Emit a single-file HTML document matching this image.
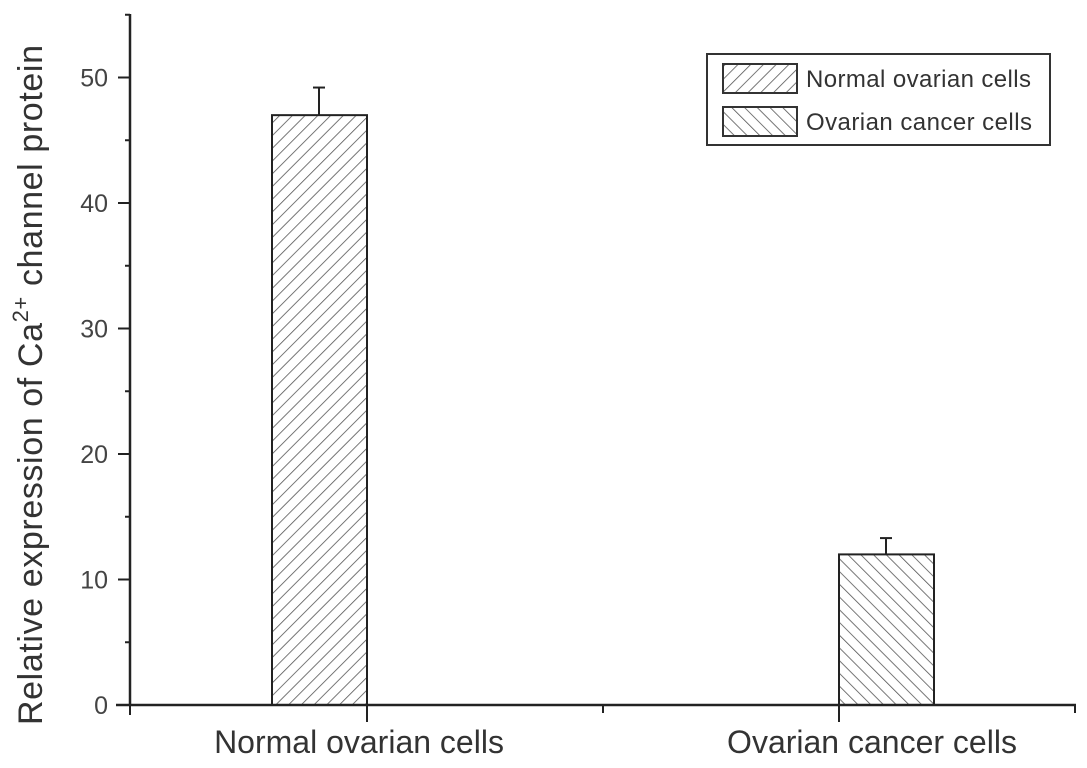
<!DOCTYPE html>
<html><head><meta charset="utf-8"><style>body{margin:0;background:#fff}svg{display:block;font-family:"Liberation Sans",Arial,sans-serif}</style></head>
<body>
<svg id="chart" width="1087" height="768" viewBox="0 0 1087 768">
<defs>
<pattern id="hatchR" patternUnits="userSpaceOnUse" width="9" height="9" patternTransform="rotate(45)"><line x1="0" y1="0" x2="0" y2="9" stroke="#555" stroke-width="1.6"/></pattern>
<pattern id="hatchL" patternUnits="userSpaceOnUse" width="9" height="9" patternTransform="rotate(-45)"><line x1="0" y1="0" x2="0" y2="9" stroke="#555" stroke-width="1.6"/></pattern>
</defs>
<g id="plot"></g>
<g>
<rect x="707" y="54" width="343" height="91" fill="#fff" stroke="#333" stroke-width="2"/>
<rect x="723" y="64" width="74" height="29" fill="url(#hatchR)" stroke="#333" stroke-width="2"/>
<text x="806" y="87" font-size="24" fill="#333" textLength="225">Normal ovarian cells</text>
<rect x="723" y="107" width="74" height="29" fill="url(#hatchL)" stroke="#333" stroke-width="2"/>
<text x="806" y="130" font-size="24" fill="#333" textLength="226">Ovarian cancer cells</text>
</g>
<text transform="translate(42,385) rotate(-90)" text-anchor="middle" font-size="34" fill="#333" textLength="680">Relative expression of Ca<tspan dy="-14" font-size="22">2+</tspan><tspan dy="14">  channel protein</tspan></text>
</svg>
<script>
const categories=["Normal ovarian cells","Ovarian cancer cells"];
const values=[47.0,12.0];
const errors=[2.2,1.3];
const yTicks=[0,10,20,30,40,50];
const NS="http://www.w3.org/2000/svg";
const g=document.getElementById('plot');
const X0=130,Y0=705,pxPer=12.55;
const y=v=>Y0-v*pxPer;
const catTick=[367,839];
function mk(t,a){const e=document.createElementNS(NS,t);for(const k in a)e.setAttribute(k,a[k]);g.appendChild(e);return e;}
categories.forEach((c,i)=>{
 const x=i===0?catTick[i]-95:catTick[i];
 const top=y(values[i]);
 const et=y(values[i]+errors[i]);
 const l=mk('line',{x1:x+47,y1:top,x2:x+47,y2:et,stroke:'#222','stroke-width':2});
 
 
 const cap=mk('line',{x1:x+41,y1:et,x2:x+53,y2:et,stroke:'#222','stroke-width':2});
 
 
 const r=mk('rect',{x:x,y:top,width:95,height:Y0-top,fill:i===0?'url(#hatchR)':'url(#hatchL)',stroke:'#222','stroke-width':2});
 
 
 const t=mk('text',{x:i===0?359:872,y:753,'text-anchor':'middle','font-size':32,fill:'#333'});
 t.textContent=c;
 
 
});
const ya=mk('line',{x1:X0,y1:14,x2:X0,y2:Y0+1,stroke:'#222','stroke-width':2.5});


const xa=mk('line',{x1:116,y1:Y0,x2:1076,y2:Y0,stroke:'#222','stroke-width':2.5});


yTicks.forEach(v=>{
 mk('line',{x1:X0-12,y1:y(v),x2:X0,y2:y(v),stroke:'#222','stroke-width':2});
 mk('line',{x1:X0-5,y1:y(v+5),x2:X0,y2:y(v+5),stroke:'#222','stroke-width':2});
 const t=mk('text',{x:108,y:y(v)+9,'text-anchor':'end','font-size':25,fill:'#444'});
 t.textContent=v;
 
 
});
[[130,10],[367,17],[603,8],[839,17],[1075,8]].forEach(([x,l])=>mk('line',{x1:x,y1:Y0,x2:x,y2:Y0+l,stroke:'#222','stroke-width':2}));
</script>
</body></html>
